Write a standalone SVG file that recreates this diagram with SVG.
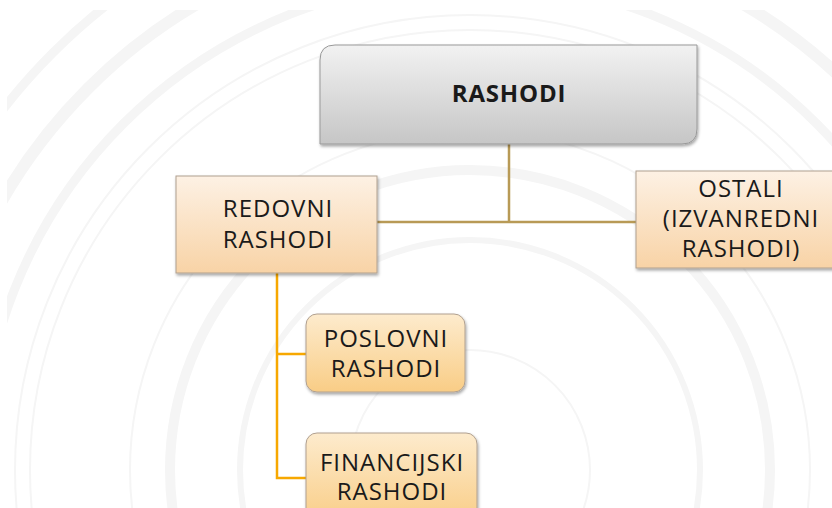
<svg xmlns="http://www.w3.org/2000/svg" width="832" height="508" viewBox="0 0 832 508">
<defs>
<linearGradient id="gGray" x1="0" y1="0" x2="0" y2="1"><stop offset="0" stop-color="#f2f2f2"/><stop offset="1" stop-color="#c6c6c6"/></linearGradient>
<linearGradient id="gPeach" x1="0" y1="0" x2="0" y2="1"><stop offset="0" stop-color="#fdf1e4"/><stop offset="1" stop-color="#f8d3a6"/></linearGradient>
<linearGradient id="gOrange" x1="0" y1="0" x2="0" y2="1"><stop offset="0" stop-color="#fdebcd"/><stop offset="1" stop-color="#f9cd86"/></linearGradient>
<filter id="sh" x="-10%" y="-10%" width="125%" height="130%"><feDropShadow dx="1" dy="2" stdDeviation="1.5" flood-color="#000" flood-opacity="0.35"/></filter>
<clipPath id="clipBg"><rect x="7" y="10" width="825" height="498"/></clipPath>
</defs>
<style>
.t{font-family:"Open Sans","Liberation Sans",sans-serif;font-size:24px;letter-spacing:1px;fill:#1a1a1a;text-anchor:middle}
.b{font-weight:bold;letter-spacing:0.8px}
.bg{fill:none;stroke:#f5f5f5}
.c1{fill:none;stroke:#b89a56;stroke-width:2.5}
.c2{fill:none;stroke:#f7a800;stroke-width:2.5}
.box{stroke:#b0a090;stroke-width:1}
</style>
<rect width="832" height="508" fill="#ffffff"/>
<g id="background" clip-path="url(#clipBg)">
<circle class="bg" cx="470" cy="470" r="120" stroke-width="2"/>
<circle class="bg" cx="470" cy="470" r="230" stroke-width="6"/>
<circle class="bg" cx="470" cy="470" r="300" stroke-width="10"/>
<circle class="bg" cx="470" cy="470" r="340" stroke-width="2"/>
<circle class="bg" cx="470" cy="470" r="440" stroke-width="2"/>
<circle class="bg" cx="470" cy="470" r="455" stroke-width="2"/>
<circle class="bg" cx="470" cy="470" r="490" stroke-width="9"/>
<circle class="bg" cx="470" cy="470" r="540" stroke-width="12"/>
<circle class="bg" cx="470" cy="470" r="590" stroke-width="9"/>
</g>
<g id="connectors">
<path class="c1" d="M509 144 V221 M377 222 H636"/>
<path class="c2" d="M277 273 V478 H306 M277 354 H306"/>
</g>
<g id="rashodi">
<path d="M335 45 H697 V129 Q697 144 682 144 H320 V60 Q320 45 335 45 Z" fill="url(#gGray)" stroke="#999" stroke-width="1" filter="url(#sh)"/>
<text class="t b" x="509" y="102">RASHODI</text>
</g>
<g id="redovni">
<rect x="176" y="176" width="201" height="97" fill="url(#gPeach)" class="box" filter="url(#sh)"/>
<text class="t" x="278" y="217">REDOVNI</text>
<text class="t" x="278" y="248">RASHODI</text>
</g>
<g id="ostali">
<rect x="636" y="171" width="200" height="97" fill="url(#gPeach)" class="box" filter="url(#sh)"/>
<text class="t" x="741" y="197">OSTALI</text>
<text class="t" x="741" y="227">(IZVANREDNI</text>
<text class="t" x="741" y="257">RASHODI)</text>
</g>
<g id="poslovni">
<rect x="306" y="314" width="159" height="78" rx="11" fill="url(#gOrange)" class="box" filter="url(#sh)"/>
<text class="t" x="386" y="347">POSLOVNI</text>
<text class="t" x="386" y="377">RASHODI</text>
</g>
<g id="financijski">
<rect x="306" y="433" width="171" height="90" rx="11" fill="url(#gOrange)" class="box" filter="url(#sh)"/>
<text class="t" x="392" y="471">FINANCIJSKI</text>
<text class="t" x="392" y="500">RASHODI</text>
</g>
</svg>
